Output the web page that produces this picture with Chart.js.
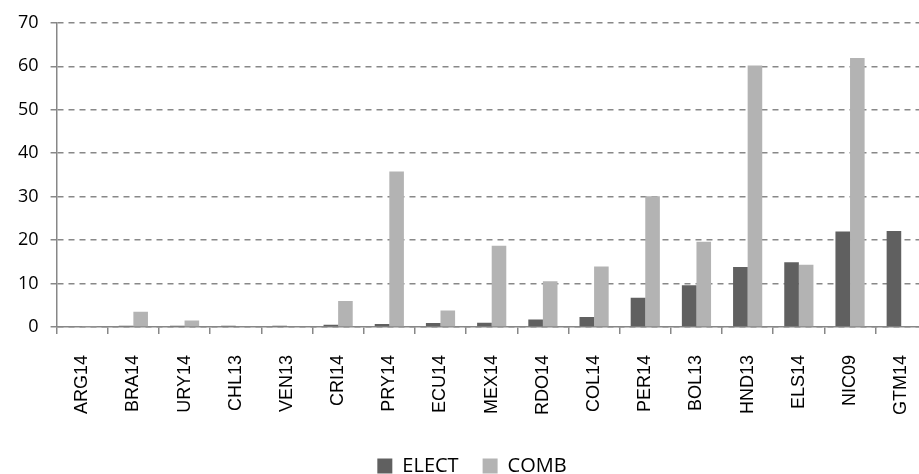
<!DOCTYPE html>
<html>
<head>
<meta charset="utf-8">
<script src="https://cdn.jsdelivr.net/npm/chart.js@4.4.0/dist/chart.umd.min.js"></script>
<style>
  html, body { margin: 0; padding: 0; background: #fff; overflow: hidden; }
  /* a bit wider than the window: the plot runs off the right edge in the original */
  #wrap { width: 944px; height: 474px; position: relative; }
</style>
</head>
<body>
<div id="wrap"><canvas id="myChart"></canvas></div>
<script>
// data
const countries = ['ARG14', 'BRA14', 'URY14', 'CHL13', 'VEN13', 'CRI14', 'PRY14', 'ECU14', 'MEX14',
    'RDO14', 'COL14', 'PER14', 'BOL13', 'HND13', 'ELS14', 'NIC09', 'GTM14'];
const elect = [0, 0.3, 0.3, 0.3, 0.3, 0.5, 0.7, 0.9, 1.0, 1.7, 2.3, 6.7, 9.6, 13.8, 14.9, 22.0, 22.1];
const comb = [0.2, 3.5, 1.5, 0, 0, 6.0, 35.8, 3.8, 18.7, 10.5, 13.9, 30.1, 19.6, 60.2, 14.3, 61.9, 0];
const yTicks = [0, 10, 20, 30, 40, 50, 60, 70];

// legend sits lower than chart.js puts it
const legendShift = {
    id: 'legendShift',
    beforeInit: function(chart) {
        const fit = chart.legend.fit;
        chart.legend.fit = function() {
            fit.bind(chart.legend)();
            this.height -= 12;
        };
    }
};

const ctx = document.getElementById('myChart').getContext('2d');

const myChart = new Chart(ctx, {
    type: 'bar',
    data: {
        labels: countries,
        datasets: [{
            label: 'ELECT',
            data: elect,
            backgroundColor: '#606060',
            borderWidth: 0
        }, {
            label: 'COMB',
            data: comb,
            backgroundColor: '#b3b3b3',
            borderWidth: 0
        }]
    },
    plugins: [legendShift],
    options: {
        responsive: true,
        maintainAspectRatio: false,
        animation: false,
        categoryPercentage: 0.57,
        barPercentage: 1.0,
        layout: { padding: { left: 6, right: 6, top: 14, bottom: 0 } },
        plugins: {
            tooltip: { enabled: false },
            legend: {
                position: 'bottom',
                labels: {
                    boxWidth: 15,
                    boxHeight: 15,
                    padding: 24,
                    color: '#000',
                    font: { family: 'Open Sans', size: 20 }
                }
            }
        },
        scales: {
            x: {
                afterFit: function(scale) {
                    scale.height -= 4;
                },
                grid: {
                    offset: true,
                    drawOnChartArea: false,
                    color: '#878787',
                    tickLength: 7,
                    lineWidth: 1.5
                },
                border: { color: '#878787', width: 1.5 },
                ticks: {
                    maxRotation: 90,
                    minRotation: 90,
                    autoSkip: false,
                    padding: 21,
                    color: '#000',
                    font: { family: 'Liberation Sans', size: 18 }
                }
            },
            y: {
                min: 0,
                max: 70,
                afterBuildTicks: function(axis) {
                    axis.ticks = yTicks.map(function(v) { return { value: v }; });
                },
                grid: {
                    color: '#888',
                    lineWidth: 1.5,
                    tickLength: 6,
                    tickBorderDash: [],
                    drawTicks: true
                },
                border: { color: '#878787', width: 1.5, dash: [6, 5] },
                ticks: {
                    padding: 12,
                    color: '#000',
                    font: { family: 'Open Sans', size: 18 }
                }
            }
        }
    }
});
</script>
</body>
</html>
